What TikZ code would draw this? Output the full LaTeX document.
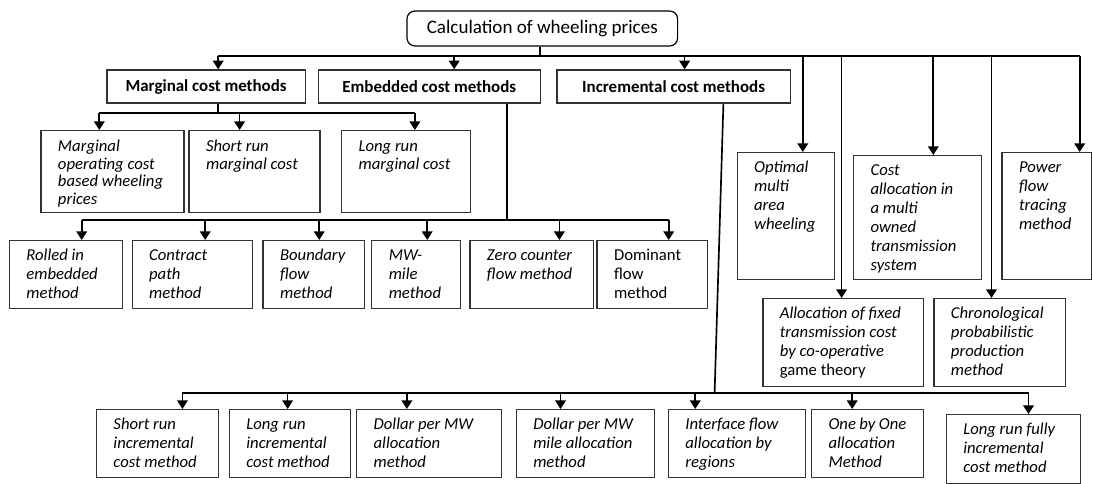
\documentclass[tikz,border=0pt]{standalone}
\usepackage{fontspec}
\setmainfont{Carlito}
\usetikzlibrary{arrows.meta}

\tikzset{
  wire/.style={line width=1.25pt},
  rootbox/.style={draw, line width=0.9pt, rounded corners=6pt, minimum width=203pt,
    minimum height=26.25pt, font=\fontsize{14.3}{17}\selectfont},
  head/.style={draw=black!80, line width=1pt, minimum height=24.75pt,
    font=\fontsize{12.7}{15}\selectfont\bfseries},
  cell/.style 2 args={draw=black!80, line width=1pt, anchor=north west, align=flush left,
    inner xsep=12.75pt, inner ysep=0pt, text width={(#1-34)*0.75pt},
    text height=15pt, text depth={(#2)*0.75pt-15pt},
    font=\fontsize{12.5}{14.3}\selectfont\itshape},
  tight/.style={text height=16pt, text depth={61.5pt-16pt},
    font=\fontsize{12.5}{13.1}\selectfont\itshape},
  upright/.style={font=\fontsize{12.5}{14.3}\selectfont\upshape}
}

\begin{document}
\begin{tikzpicture}[x=0.75pt, y=-0.75pt, >={Triangle[length=6.5pt,width=8pt]}]
    \useasboundingbox (0,0) rectangle (1093,484);

    \node[rootbox] (root) at (542.3,28.5) {Calculation of wheeling prices};

    \node[head, minimum width=148.65pt] (marg) at (206.1,86.5) {Marginal cost methods};
    \node[head, minimum width=166.3pt] (emb) at (429.3,86.5) {Embedded cost methods};
    \node[head, minimum width=175.1pt] (inc) at (673.6,86.5) {Incremental cost methods};

    \node[cell={143.1}{82}, tight] (mop) at (40.3,130) {Marginal\\operating~cost\\based~wheeling\\prices};
    \node[cell={130.8}{82}, tight] (srm) at (188.4,130) {Short~run\\marginal~cost};
    \node[cell={129.1}{82}, tight] (lrm) at (340.9,130) {Long~run\\marginal~cost};

    \node[cell={113.3}{68}] (rim) at (8.8,240) {Rolled~in\\embedded\\method};
    \node[cell={120.3}{68}] (cpm) at (131.5,240) {Contract\\path\\method};
    \node[cell={101.3}{68}] (bfm) at (262.4,240) {Boundary\\flow\\method};
    \node[cell={88.4}{68}] (mwm) at (371.1,240) {MW-\\mile\\method};
    \node[cell={123.6}{68}] (zcf) at (469.3,240) {Zero~counter\\flow~method};
    \node[cell={110.4}{68}, upright] (dfm) at (596.4,240) {Dominant\\flow\\method};

    \node[cell={97.3}{127}] (oma) at (736.5,152) {Optimal\\multi\\area\\wheeling};
    \node[cell={128}{124}] (cam) at (852.9,155) {Cost\\allocation~in\\a~multi\\owned\\transmission\\system};
    \node[cell={89.6}{127}] (pft) at (1001.4,152) {Power\\flow\\tracing\\method};
    \node[cell={160.5}{88}] (afc) at (762.2,298) {Allocation~of~fixed\\transmission~cost\\by~co-operative\\{\upshape game~theory}};
    \node[cell={131.2}{88}] (cpp) at (933.3,298) {Chronological\\probabilistic\\production\\method};

    \node[cell={121.7}{68}] (sri) at (95.8,409) {Short~run\\incremental\\cost~method};
    \node[cell={121}{68}] (lri) at (228.7,409) {Long~run\\incremental\\cost~method};
    \node[cell={144.5}{68}] (dpm) at (356,409) {Dollar~per~MW\\allocation\\method};
    \node[cell={138}{68}] (dpmm) at (515.6,409) {Dollar~per~MW\\mile~allocation\\method};
    \node[cell={136.9}{68}] (ifa) at (667.7,409) {Interface~flow\\allocation~by\\regions};
    \node[cell={111.8}{68}] (obo) at (810.9,409) {One~by~One\\allocation\\Method};
    \node[cell={134.1}{69}] (lrf) at (945.6,414) {Long~run~fully\\incremental\\cost~method};

    % top bus
    \coordinate (t-root) at (540.2,56);
    \foreach \n/\x in {marg/218.2, emb/454.2, inc/684.6, oma/802.8, afc/841.6, cam/933.3, cpp/991.5, pft/1079.7}
        \coordinate (t-\n) at (\x,56);
    \draw[wire] (root.south -| t-root) -- (t-root);
    \draw[wire] (t-marg) -- (t-pft);
    \foreach \n in {marg, emb, inc, oma, afc, cam, cpp, pft}
        \draw[wire, ->] (t-\n) -- (t-\n |- \n.north);

    % marginal cost branch
    \foreach \n/\x in {mop/99.3, srm/239.6, lrm/414.9}
        \coordinate (m-\n) at (\x,113);
    \draw[wire] (marg.south -| t-marg) -- (t-marg |- m-mop);
    \draw[wire] (m-mop) -- (m-lrm);
    \foreach \n in {mop, srm, lrm}
        \draw[wire, ->] (m-\n) -- (m-\n |- \n.north);

    % embedded cost branch
    \coordinate (e-stem) at (506.8,220);
    \foreach \n/\x in {rim/81.7, cpm/205.2, bfm/319.2, mwm/427.2, zcf/559.4, dfm/668.7}
        \coordinate (e-\n) at (\x,220);
    \draw[wire] (emb.south -| e-stem) -- (e-stem);
    \draw[wire] (e-rim) -- (e-dfm);
    \foreach \n in {rim, cpm, bfm, mwm, zcf, dfm}
        \draw[wire, ->] (e-\n) -- (e-\n |- \n.north);

    % incremental cost branch
    \coordinate (i-top) at (723.4,103);
    \coordinate (i-stem) at (714.6,393);
    \foreach \n/\x in {sri/182.4, lri/287.6, dpm/406.9, dpmm/560.5, ifa/695.2, obo/852.2, lrf/1028.5}
        \coordinate (i-\n) at (\x,393);
    \draw[wire] (inc.south -| i-top) -- (i-stem);
    \draw[wire] (i-sri) -- (i-lrf);
    \foreach \n in {sri, lri, dpm, dpmm, ifa, obo, lrf}
        \draw[wire, ->] (i-\n) -- (i-\n |- \n.north);
\end{tikzpicture}
\end{document}
